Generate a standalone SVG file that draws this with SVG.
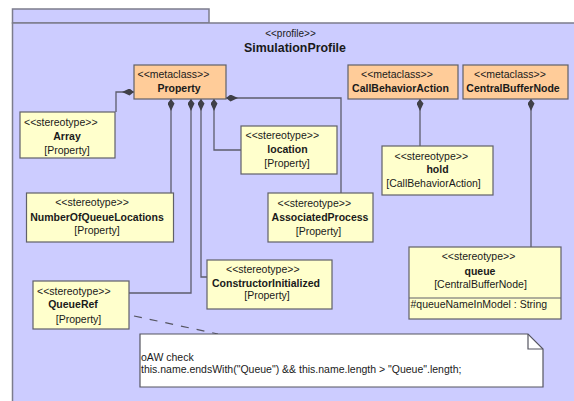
<svg xmlns="http://www.w3.org/2000/svg" width="574" height="401" viewBox="0 0 574 401">
  <style>
    text { font-family: "Liberation Sans", Arial, sans-serif; font-size: 10.5px; fill: #1a1a1a; }
    .b { font-weight: bold; }
    .m { text-anchor: middle; }
    .frame { fill: #ccccff; stroke: #7c7c8c; stroke-width: 1.5; }
    .meta { fill: #ffcc99; stroke: #606068; stroke-width: 1.2; }
    .st { fill: #ffffcc; stroke: #606068; stroke-width: 1.2; }
    .note { fill: #ffffff; stroke: #555560; stroke-width: 1.2; }
    .ext { fill: none; stroke: #5c5c6c; stroke-width: 1.3; marker-end: url(#ext); }
    .anchor { fill: none; stroke: #555560; stroke-width: 1.2; stroke-dasharray: 8 8; }
  </style>
  <defs>
    <marker id="ext" viewBox="0 0 12 7" refX="12" refY="3.5" markerWidth="12" markerHeight="7" markerUnits="userSpaceOnUse" orient="auto">
      <path d="M12,3.5 L7.5,0 L0,3.5 L7.5,7 z" fill="#404048"/>
    </marker>
  </defs>

  <!-- profile package -->
  <g id="SimulationProfile">
    <rect class="frame" x="12.5" y="9" width="196.5" height="14"/>
    <rect class="frame" x="12.5" y="23" width="580" height="400"/>
    <text class="m" x="290.5" y="37" style="font-size:10px">&lt;&lt;profile&gt;&gt;</text>
    <text class="b m" x="295" y="52" style="font-size:12.4px">SimulationProfile</text>
  </g>

  <!-- extension connectors -->
  <g id="connectors">
    <path class="ext" d="M116,112 V92 H134"/>
    <path class="ext" d="M171,193 V99"/>
    <path class="ext" d="M129,293 H191 V99"/>
    <path class="ext" d="M207,277 H201 V99"/>
    <path class="ext" d="M241,150 H214 V99"/>
    <path class="ext" d="M341,193 V98 H226"/>
    <path class="ext" d="M420,146 V99"/>
    <path class="ext" d="M531,247 V99"/>
    <path class="anchor" d="M134,316 L218,334"/>
  </g>

  <!-- metaclasses -->
  <g id="Property">
    <rect class="meta" x="134" y="65" width="92" height="34"/>
    <text x="137.5" y="78">&lt;&lt;metaclass&gt;&gt;</text>
    <text class="b m" x="179" y="92">Property</text>
  </g>
  <g id="CallBehaviorAction">
    <rect class="meta" x="348" y="65" width="110" height="34"/>
    <text x="361" y="78">&lt;&lt;metaclass&gt;&gt;</text>
    <text class="b m" x="400.5" y="92">CallBehaviorAction</text>
  </g>
  <g id="CentralBufferNode">
    <rect class="meta" x="463" y="65" width="105" height="34"/>
    <text x="474" y="78">&lt;&lt;metaclass&gt;&gt;</text>
    <text class="b m" x="513" y="92">CentralBufferNode</text>
  </g>

  <!-- stereotypes -->
  <g id="Array">
    <rect class="st" x="20" y="112" width="95" height="46"/>
    <text x="24" y="126">&lt;&lt;stereotype&gt;&gt;</text>
    <text class="b m" x="67" y="140">Array</text>
    <text class="m" x="67" y="154">[Property]</text>
  </g>
  <g id="location">
    <rect class="st" x="241" y="126" width="96" height="48"/>
    <text x="245.5" y="139">&lt;&lt;stereotype&gt;&gt;</text>
    <text class="b m" x="287.5" y="153">location</text>
    <text class="m" x="287" y="167">[Property]</text>
  </g>
  <g id="hold">
    <rect class="st" x="382" y="146" width="111" height="49"/>
    <text x="394.5" y="159.5">&lt;&lt;stereotype&gt;&gt;</text>
    <text class="b m" x="437.5" y="173">hold</text>
    <text class="m" x="433.5" y="187">[CallBehaviorAction]</text>
  </g>
  <g id="NumberOfQueueLocations">
    <rect class="st" x="26.5" y="193" width="147" height="49"/>
    <text class="m" x="92" y="206">&lt;&lt;stereotype&gt;&gt;</text>
    <text class="b m" x="97" y="220.5">NumberOfQueueLocations</text>
    <text class="m" x="97" y="234">[Property]</text>
  </g>
  <g id="AssociatedProcess">
    <rect class="st" x="268" y="193" width="105" height="49"/>
    <text x="277.5" y="206.5">&lt;&lt;stereotype&gt;&gt;</text>
    <text class="b m" x="320" y="220.5">AssociatedProcess</text>
    <text class="m" x="318.5" y="234.5">[Property]</text>
  </g>
  <g id="queue">
    <rect class="st" x="409" y="247" width="152" height="72"/>
    <line x1="409" y1="298" x2="561" y2="298" stroke="#606068" stroke-width="1.2"/>
    <text class="m" x="478.5" y="260">&lt;&lt;stereotype&gt;&gt;</text>
    <text class="b m" x="480" y="274.5">queue</text>
    <text class="m" x="480.5" y="288">[CentralBufferNode]</text>
    <text x="410.5" y="308">#queueNameInModel : String</text>
  </g>
  <g id="ConstructorInitialized">
    <rect class="st" x="207" y="260" width="125" height="49"/>
    <text x="226" y="273">&lt;&lt;stereotype&gt;&gt;</text>
    <text class="b m" x="266" y="287">ConstructorInitialized</text>
    <text class="m" x="267" y="299">[Property]</text>
  </g>
  <g id="QueueRef">
    <rect class="st" x="33" y="281" width="96" height="48"/>
    <text x="37" y="294.5">&lt;&lt;stereotype&gt;&gt;</text>
    <text class="b m" x="73" y="308">QueueRef</text>
    <text class="m" x="78.5" y="323">[Property]</text>
  </g>

  <!-- constraint note -->
  <g id="oAWCheck">
    <path class="note" d="M140,334 H528 L543,349 V387 H140 Z"/>
    <path d="M528,334 V349 H543" fill="none" stroke="#555560" stroke-width="1.2"/>
    <text x="141" y="361">oAW check</text>
    <text x="141" y="373">this.name.endsWith("Queue") &amp;&amp; this.name.length &gt; "Queue".length;</text>
  </g>
</svg>
